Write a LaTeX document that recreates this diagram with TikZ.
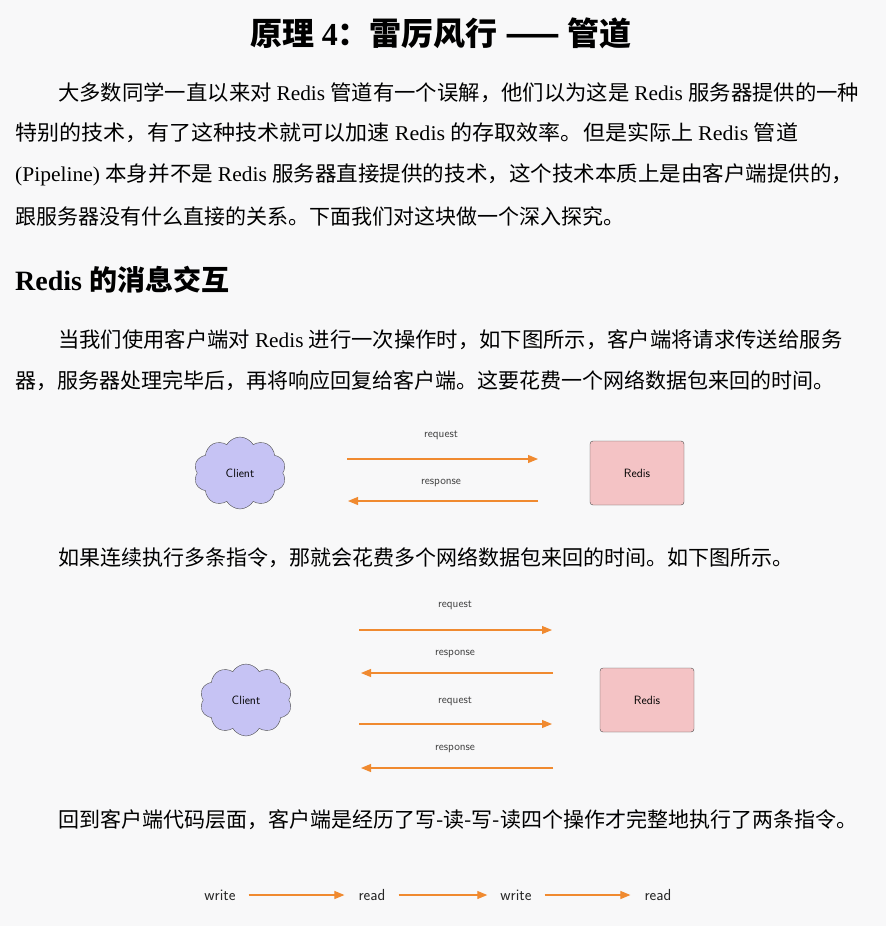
\documentclass[tikz,border=0pt]{standalone}
\usepackage{fontspec}
\setmainfont{Liberation Serif}
\newfontfamily\cjk{Noto Sans CJK SC}
\usetikzlibrary{shapes.symbols,arrows.meta}
\definecolor{bg}{HTML}{F8F8F9}
\definecolor{arr}{HTML}{F08A30}
\definecolor{cl}{HTML}{C6C3F4}
\definecolor{rd}{HTML}{F4C3C5}
\tikzset{
 body/.style={anchor=west,inner sep=0pt,font=\fontsize{21}{21}\selectfont},
 lbl/.style={inner sep=0pt,font=\sffamily\fontsize{11.5}{11.5}\selectfont,text=black!75},
 wr/.style={inner sep=0pt,font=\sffamily\fontsize{16}{16}\selectfont,text=black!85},
 ar/.style={arr,line width=1.1pt,-{Triangle[length=10pt,width=8pt]}},
 cloudn/.style={cloud,cloud puffs=10,cloud puff arc=120,aspect=1.3,draw=black!70,fill=cl,minimum width=92pt,minimum height=72pt,font=\sffamily\fontsize{12}{12}\selectfont,inner sep=0pt},
 redis/.style={draw=black!70,fill=rd,rounded corners=3pt,minimum width=94pt,minimum height=64pt,font=\sffamily\fontsize{12}{12}\selectfont}
}
\begin{document}
\begin{tikzpicture}[x=1pt,y=-1pt]
\fill[bg] (0,0) rectangle (886,926);
\useasboundingbox (0,0) rectangle (886,926);
\node[inner sep=0pt,font=\fontsize{32}{32}\selectfont\bfseries] (title) at (441,33) {\cjk 原理 \rmfamily 4\cjk：雷厉风行 —— 管道};
\node[body] (p1) at (58,93) {\scalebox{1.017}[1]{\cjk 大多数同学一直以来对 \rmfamily Redis \cjk 管道有一个误解，他们以为这是 \rmfamily Redis \cjk 服务器提供的一种}};
\node[body] (p2) at (15,133) {\scalebox{1.05}[1]{\cjk 特别的技术，有了这种技术就可以加速 \rmfamily Redis \cjk 的存取效率。但是实际上 \rmfamily Redis \cjk 管道}};
\node[body] (p3) at (15,175) {\scalebox{1.025}[1]{(Pipeline) \cjk 本身并不是 \rmfamily Redis \cjk 服务器直接提供的技术，这个技术本质上是由客户端提供的，}};
\node[body] (p4) at (15,216) {\cjk 跟服务器没有什么直接的关系。下面我们对这块做一个深入探究。};
\node[anchor=west,inner sep=0pt,font=\fontsize{28}{28}\selectfont\bfseries] (h2) at (15,280) {Redis \cjk 的消息交互};
\node[body] (q1) at (58,340) {\scalebox{1.016}[1]{\cjk 当我们使用客户端对 \rmfamily Redis \cjk 进行一次操作时，如下图所示，客户端将请求传送给服务}};
\node[body] (q2) at (15,381) {\cjk 器，服务器处理完毕后，再将响应回复给客户端。这要花费一个网络数据包来回的时间。};
% diagram 1
\node[cloudn] (c1) at (240,473) {Client};
\node[redis] (r1) at (637,473) {Redis};
\coordinate (a1s) at (347,459); \coordinate (a1e) at (538,459);
\coordinate (b1s) at (538,501); \coordinate (b1e) at (348,501);
\draw[ar] (a1s) -- (a1e);
\draw[ar] (b1s) -- (b1e);
\node[lbl] (l1) at (441,435) {request};
\node[lbl] (l2) at (441,483) {response};
\node[body] (s1) at (58,558) {\cjk 如果连续执行多条指令，那就会花费多个网络数据包来回的时间。如下图所示。};
% diagram 2
\node[cloudn] (c2) at (246,700) {Client};
\node[redis] (r2) at (647,700) {Redis};
\coordinate (a2s) at (359,630); \coordinate (a2e) at (552,630);
\coordinate (b2s) at (553,673); \coordinate (b2e) at (361,673);
\coordinate (a3s) at (359,724); \coordinate (a3e) at (552,724);
\coordinate (b3s) at (553,768); \coordinate (b3e) at (361,768);
\draw[ar] (a2s) -- (a2e);
\draw[ar] (b2s) -- (b2e);
\draw[ar] (a3s) -- (a3e);
\draw[ar] (b3s) -- (b3e);
\node[lbl] (l3) at (455,605) {request};
\node[lbl] (l4) at (455,654) {response};
\node[lbl] (l5) at (455,701) {request};
\node[lbl] (l6) at (455,749) {response};
\node[body] (s2) at (58,820) {\cjk 回到客户端代码层面，客户端是经历了写-读-写-读四个操作才完整地执行了两条指令。};
% bottom row
\node[wr] (w1) at (220,895) {write};
\node[wr] (d1) at (372,895) {read};
\node[wr] (w2) at (516,895) {write};
\node[wr] (d2) at (658,895) {read};
\draw[ar] ([xshift=13pt]w1.east) -- ([xshift=-14pt]d1.west);
\draw[ar] ([xshift=13pt]d1.east) -- ([xshift=-13pt]w2.west);
\draw[ar] ([xshift=13pt]w2.east) -- ([xshift=-14pt]d2.west);
\end{tikzpicture}
\end{document}
